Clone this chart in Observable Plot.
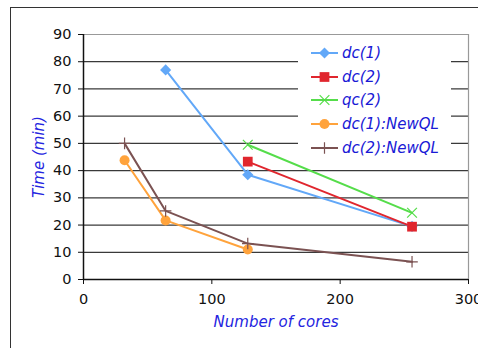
<!DOCTYPE html>
<html>
<head>
<meta charset="utf-8">
<script src="https://cdn.jsdelivr.net/npm/d3@7"></script>
<script src="https://cdn.jsdelivr.net/npm/@observablehq/plot@0.6"></script>
<style>
  html, body { margin: 0; padding: 0; background: #fff; }
  #wrap { position: relative; width: 478px; height: 348px; overflow: hidden; font-family: "DejaVu Sans", Verdana, sans-serif; }
  #outer { position: absolute; left: 10px; top: 7px; width: 480px; height: 360px; border-top: 1.5px solid #333; border-left: 1.5px solid #333; box-sizing: border-box; pointer-events: none; }
  #legend { position: absolute; left: 298px; top: 40px; width: 153px; height: 124px; background: #fff; }
  .lg-row { position: absolute; left: 13px; height: 20px; display: flex; align-items: center; }
  .lg-row span { margin-left: 4px; font-style: italic; font-size: 15px; color: #1a1ad6; white-space: nowrap; }
  svg g[aria-label="y-axis label"] text, svg g[aria-label="x-axis label"] text { fill: #2424e0; font-style: italic; font-size: 15px; }
</style>
</head>
<body>
<div id="wrap">
  <div id="chart"></div>
  <div id="outer"></div>
  <div id="legend"></div>
</div>
<script>
const cores = [32, 64, 128, 256];
const seriesNames = ["dc(1)", "dc(2)", "qc(2)", "dc(1):NewQL", "dc(2):NewQL"];
const dc1 = [null, 77, 38.5, 19.5];
const dc2 = [null, null, 43.3, 19.4];
const qc2 = [null, null, 49.5, 24.5];
const dc1NewQL = [43.8, 21.7, 11.0, null];
const dc2NewQL = [50.0, 25.2, 13.2, 6.5];
const yTicks = [0, 10, 20, 30, 40, 50, 60, 70, 80, 90];
const xTicks = [0, 100, 200, 300];
const colors = ["#62a8f8", "#e0262e", "#55dd4a", "#ffa33c", "#7b5252"];
const symbols = ["diamond2", "square", "times", "circle", "plus"];

const allSeries = [dc1, dc2, qc2, dc1NewQL, dc2NewQL];
const rows = [];
allSeries.forEach((vals, i) => {
  vals.forEach((v, j) => {
    if (v != null) rows.push({series: seriesNames[i], cores: cores[j], time: v});
  });
});

const sizes = {"diamond2": 5, "square": 5.5, "times": 4.5, "circle": 5, "plus": 3.8};

const chart = Plot.plot({
  width: 478,
  height: 348,
  marginLeft: 83,
  marginRight: 10,
  marginTop: 34,
  marginBottom: 69,
  style: {fontFamily: "'DejaVu Sans', Verdana, sans-serif", fontSize: "14.5px", color: "#111", background: "transparent"},
  x: {domain: [0, 300]},
  y: {domain: [0, 90]},
  color: {domain: seriesNames, range: colors},
  symbol: {domain: seriesNames, range: symbols},
  marks: [
    Plot.ruleY(yTicks.filter(d => d > 0 && d < 90), {stroke: "#3a3a3a", strokeWidth: 1.2}),
    Plot.ruleY([90], {stroke: "#999", strokeWidth: 1.2}),
    Plot.ruleX([300], {stroke: "#999", strokeWidth: 1.2}),
    Plot.axisY({ticks: yTicks, tickSize: 5, tickPadding: 7, label: "Time (min)", labelAnchor: "center", labelOffset: 50, labelArrow: "none", fontSize: 14.5}),
    Plot.axisX({ticks: xTicks, tickSize: 5, tickPadding: 9, label: "Number of cores", labelAnchor: "center", labelOffset: 47, labelArrow: "none", fontSize: 14.5}),
    Plot.ruleY([0], {stroke: "#111", strokeWidth: 1.5}),
    Plot.ruleX([0], {stroke: "#111", strokeWidth: 1.5}),
    Plot.line(rows, {x: "cores", y: "time", z: "series", stroke: "series", strokeWidth: 2}),
    ...seriesNames.map((s, i) => Plot.dot(rows.filter(d => d.series === s), {
      x: "cores", y: "time", symbol: "series",
      fill: ["times", "plus"].includes(symbols[i]) ? "none" : "series",
      stroke: "series", strokeWidth: ["times", "plus"].includes(symbols[i]) ? 1.2 : 0,
      r: sizes[symbols[i]]
    }))
  ]
});
document.getElementById("chart").appendChild(chart);

// Legend
const legend = document.getElementById("legend");
const symMap = {"diamond2": d3.symbolDiamond2, "square": d3.symbolSquare, "times": d3.symbolTimes, "circle": d3.symbolCircle, "plus": d3.symbolPlus};
seriesNames.forEach((s, i) => {
  const row = document.createElement("div");
  row.className = "lg-row";
  row.style.top = (3 + i * 23.7) + "px";
  const svg = d3.create("svg").attr("width", 27).attr("height", 20);
  svg.append("line").attr("x1", 0).attr("x2", 27).attr("y1", 10).attr("y2", 10).attr("stroke", colors[i]).attr("stroke-width", 2);
  const open = ["times", "plus"].includes(symbols[i]);
  const r = sizes[symbols[i]];
  svg.append("path")
    .attr("transform", "translate(13.5,10)")
    .attr("d", d3.symbol(symMap[symbols[i]], Math.PI * r * r)())
    .attr("fill", open ? "none" : colors[i])
    .attr("stroke", colors[i])
    .attr("stroke-width", open ? 1.2 : 0);
  row.appendChild(svg.node());
  const t = document.createElement("span");
  t.textContent = s;
  row.appendChild(t);
  legend.appendChild(row);
});
</script>
</body>
</html>
